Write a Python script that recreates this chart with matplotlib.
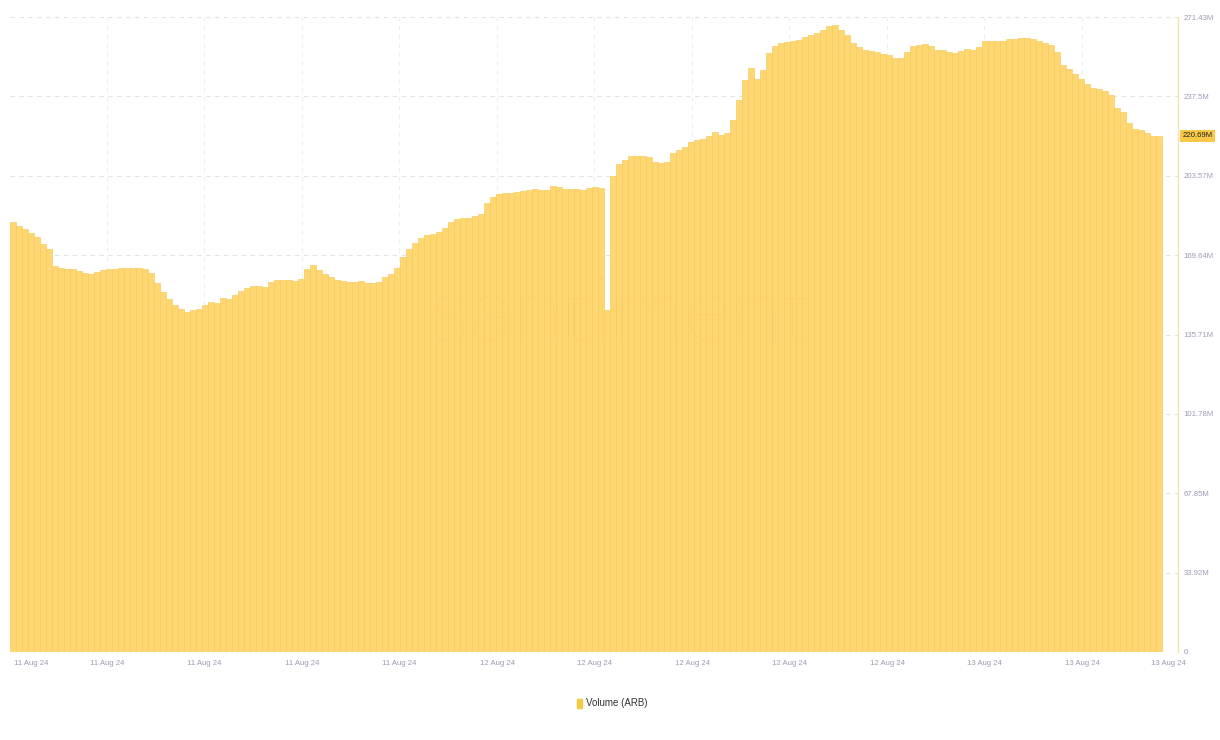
import numpy as np
import matplotlib.pyplot as plt

plt.rcParams['font.family'] = ['Liberation Sans', 'DejaVu Sans']

# Volume (ARB), millions left to right
volume = [
    183.6, 182.3, 180.8, 178.9, 177.4, 174.6, 172.3, 165.0, 164.1, 163.9,
    163.5, 162.9, 162.2, 161.6, 162.4, 163.3, 163.7, 163.9, 164.1, 164.1,
    164.1, 164.1, 163.7, 162.0, 157.7, 153.9, 150.9, 148.5, 146.6, 145.3,
    146.2, 146.6, 148.3, 149.6, 149.2, 151.3, 151.1, 152.6, 154.3, 155.6,
    156.4, 156.4, 156.2, 158.2, 158.8, 159.2, 159.0, 158.6, 159.4, 163.7,
    165.4, 163.3, 161.6, 160.5, 159.0, 158.4, 158.2, 158.2, 158.4, 157.7,
    157.7, 158.2, 160.3, 161.6, 164.1, 168.8, 172.3, 174.8, 177.0, 178.2,
    178.7, 179.5, 181.2, 183.8, 185.1, 185.5, 185.7, 186.2, 187.2, 191.9,
    194.5, 195.6, 196.2, 196.4, 196.6, 197.1, 197.5, 197.7, 197.5, 197.5,
    199.2, 198.8, 198.1, 197.9, 197.7, 197.5, 198.3, 198.8, 198.3, 146.2,
    203.5, 208.6, 210.3, 212.0, 212.0, 212.2, 211.6, 209.4, 209.2, 209.4,
    213.3, 214.6, 215.9, 218.0, 218.9, 219.1, 220.6, 222.1, 221.0, 221.8,
    227.4, 236.0, 244.5, 249.6, 244.9, 248.8, 256.0, 259.0, 260.3, 260.7,
    261.2, 261.8, 262.9, 263.7, 264.6, 265.9, 267.4, 267.8, 265.9, 263.7,
    260.3, 258.6, 257.3, 256.9, 256.3, 255.6, 255.0, 254.1, 253.9, 256.5,
    259.0, 259.5, 259.9, 259.0, 257.3, 257.3, 256.5, 256.0, 256.9, 257.7,
    257.3, 258.6, 261.2, 261.2, 261.0, 261.2, 262.0, 262.2, 262.5, 262.5,
    262.0, 261.0, 260.5, 259.5, 256.5, 250.7, 249.0, 247.1, 245.1, 242.8,
    241.1, 240.6, 239.6, 238.1, 232.5, 230.8, 226.1, 223.6, 223.1, 221.8,
    220.6, 220.69,
]

y_ticks = [0, 33.92, 67.85, 101.78, 135.71, 169.64, 203.57, 237.5, 271.43]
y_labels = ['0', '33.92M', '67.85M', '101.78M', '135.71M', '169.64M',
            '203.57M', '237.5M', '271.43M']

x_ticks = [3.0, 15.67, 31.9, 48.2, 64.4, 80.7, 96.9, 113.2, 129.4, 145.7,
           161.9, 178.2, 192.6]
x_labels = ['11 Aug 24'] * 5 + ['12 Aug 24'] * 5 + ['13 Aug 24'] * 3

bar_color = '#ffd772'
label_color = '#9a9db5'
fs = 5.6

fig = plt.figure(figsize=(12.2, 7.4), dpi=100)
ax = fig.add_axes([10 / 1220, 88 / 740, 1168 / 1220, 635 / 740])

x = np.arange(len(volume))
ax.bar(x, volume, width=1.0, color=bar_color, edgecolor='#f6cb5f',
       linewidth=0.5, zorder=2)

ax.set_xlim(-0.5, len(volume) - 0.5 + 2.67)
ax.set_ylim(0, 271.43)

# dashed grid behind the bars
for yt in y_ticks[1:]:
    ax.axhline(yt, color='#e3e3e3', lw=0.8, ls=(0, (4, 4)), zorder=1)
for xt in x_ticks[1:-1]:
    ax.axvline(xt, color='#eeeeee', lw=0.8, ls=(0, (4, 4)), zorder=1)

ax.yaxis.tick_right()
ax.set_yticks(y_ticks)
ax.set_yticklabels(y_labels)
ax.set_xticks(x_ticks)
ax.set_xticklabels(x_labels)
ax.tick_params(axis='y', length=0, pad=4, labelsize=fs, labelcolor=label_color)
ax.tick_params(axis='x', length=0, pad=6, labelsize=fs, labelcolor=label_color)

for side in ['top', 'left', 'bottom']:
    ax.spines[side].set_visible(False)
ax.spines['right'].set_color('#f8e2a6')
ax.spines['right'].set_linewidth(1.0)

# watermark
ax.text(0.523, 0.53, 'santiment', transform=ax.transAxes, ha='center', va='center',
        fontsize=66, family=['Lato', 'DejaVu Sans'], fontweight='light',
        color='#d9962a', alpha=0.07, zorder=3)

# last value badge
ax.annotate('220.69M', xy=(1.0, volume[-1]), xycoords=('axes fraction', 'data'),
            xytext=(3, 0), textcoords='offset points', ha='left', va='center',
            fontsize=fs, color='#222222',
            bbox=dict(boxstyle='square,pad=0.3', fc='#f8c947', ec='none'))

# legend
fig.patches.append(plt.Rectangle((577 / 1220, 1 - 708 / 740), 5 / 1220, 9 / 740,
                                 transform=fig.transFigure, color='#f8c947'))
fig.text(586 / 1220, 1 - 703 / 740, 'Volume (ARB)', ha='left', va='center',
         fontsize=7, color='#333333')

fig.savefig('out.png', dpi=100)
